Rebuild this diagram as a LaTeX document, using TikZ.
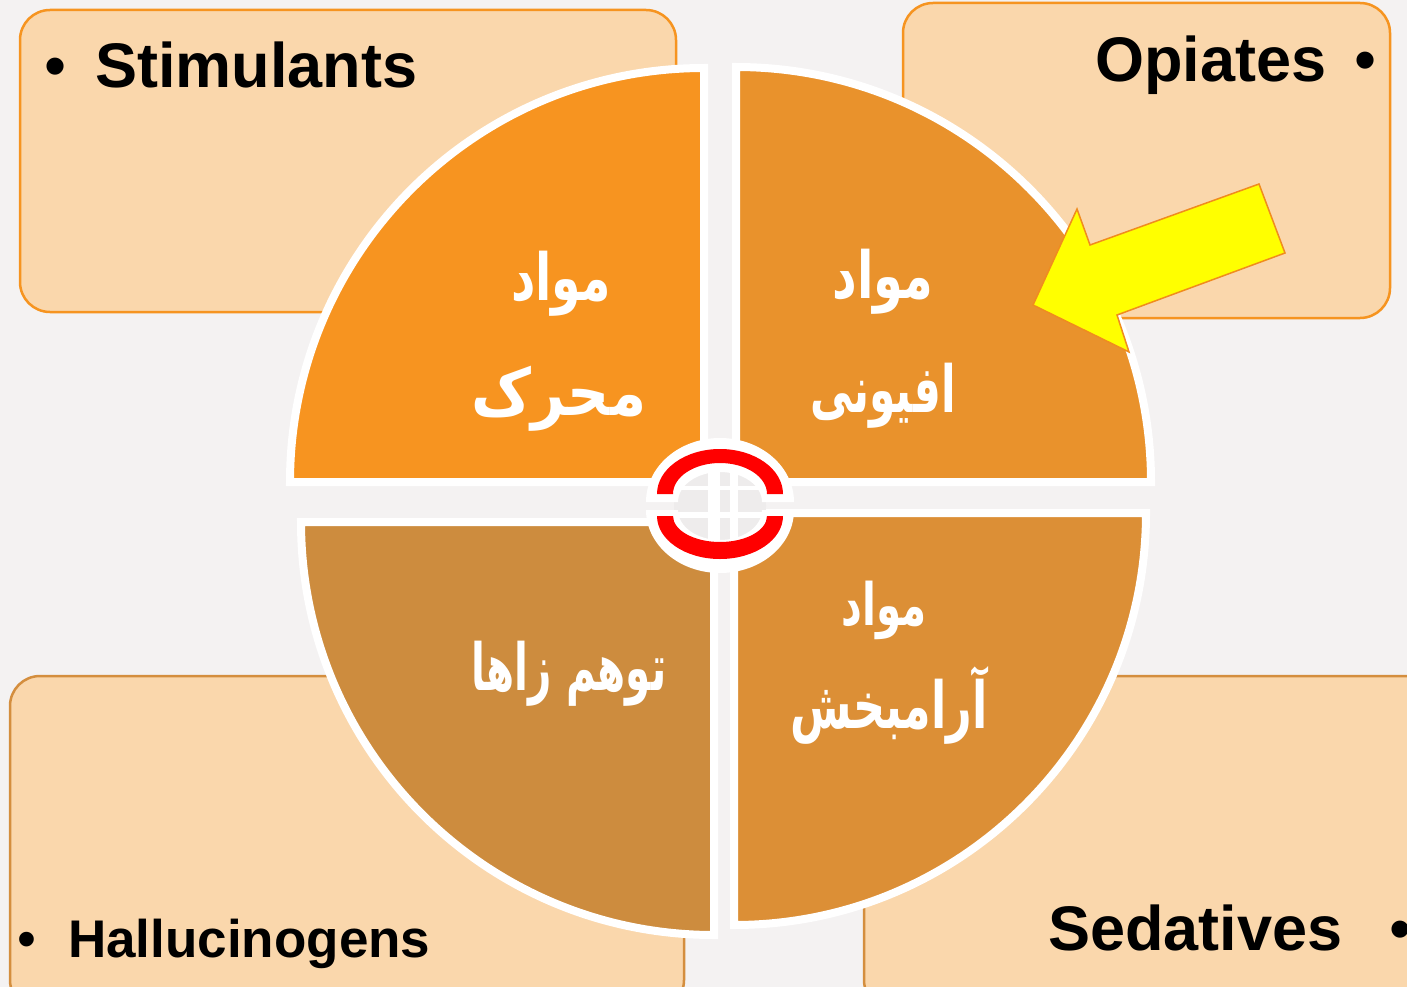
\documentclass[tikz,border=0pt]{standalone}
\usepackage{fontspec}
\setmainfont{Liberation Sans}
\newfontfamily\arabicfont[Script=Arabic]{DejaVu Sans}
\TeXXeTstate=1
\definecolor{bg}{RGB}{244,242,242}
\definecolor{holebg}{RGB}{238,236,236}
\definecolor{boxfill}{RGB}{250,215,172}
\definecolor{boxline}{RGB}{246,148,32}
\definecolor{boxlinetwo}{RGB}{212,142,62}
\definecolor{qtl}{RGB}{247,148,32}
\definecolor{qtr}{RGB}{233,146,44}
\definecolor{qbr}{RGB}{220,143,54}
\definecolor{qbl}{RGB}{205,140,62}
\definecolor{ringred}{RGB}{255,0,0}
\definecolor{arrowfill}{RGB}{255,255,0}
\definecolor{arrowline}{RGB}{240,140,30}
\tikzset{
  cornerbox/.style={fill=boxfill, rounded corners=30pt, line width=2.5pt},
  quad/.style={draw=white, line width=8pt},
  entxt/.style={inner sep=0pt, anchor=base west, font=\bfseries\fontsize{63}{70}\selectfont},
  bul/.style={inner sep=0pt, anchor=base west, font=\fontsize{63}{70}\selectfont},
  fatxt/.style={inner sep=0pt, text=white, yscale=1.3, font=\arabicfont\bfseries\fontsize{50}{60}\selectfont},
}
\begin{document}
\begin{tikzpicture}[x=1pt,y=1pt]
\useasboundingbox (0,0) rectangle (1407,-987);
\fill[bg] (0,0) rectangle (1407,-987);

% corner boxes
\draw[cornerbox, draw=boxline] (20,-10) rectangle (676,-312);
\draw[cornerbox, draw=boxline] (903,-3) rectangle (1390,-318);
\draw[cornerbox, draw=boxlinetwo] (10,-676) rectangle (684,-1010);
\draw[cornerbox, draw=boxlinetwo] (864,-676) rectangle (1440,-1010);

% corner labels
\node[bul] (b1) at (44,-88) {•};
\node[entxt] (stim) at (95,-88) {Stimulants};
\node[entxt] (opi) at (1095,-82) {Opiates};
\node[bul] (b2) at (1354,-82) {•};
\node[entxt] (sed) at (1048,-950) {Sedatives};
\node[bul] (b3) at (1389,-950) {•};
\node[bul, font=\fontsize{54}{60}\selectfont] (b4) at (17,-957) {•};
\node[entxt, font=\bfseries\fontsize{53}{60}\selectfont] (hal) at (68,-957) {Hallucinogens};

% quadrants
\path[quad, fill=qtl] (704,-482) -- (290,-482) arc[start angle=180, end angle=90, radius=414pt] -- cycle;
\path[quad, fill=qtr] (736,-482) -- (736,-67) arc[start angle=90, end angle=0, radius=415pt] -- cycle;
\path[quad, fill=qbl] (714,-522) -- (301,-522) arc[start angle=180, end angle=270, radius=413pt] -- cycle;
\path[quad, fill=qbr] (734,-513) -- (1146,-513) arc[start angle=0, end angle=-90, radius=412pt] -- cycle;

% persian labels
\node[fatxt, xscale=0.95] (q1a) at (561,-284) {\beginR مواد\endR};
\node[fatxt, xscale=1.17] (q1b) at (559,-399) {\beginR محرک\endR};
\node[fatxt, xscale=0.96] (q2a) at (883,-282) {\beginR مواد\endR};
\node[fatxt, xscale=0.85] (q2b) at (883,-396) {\beginR افیونی\endR};
\node[fatxt, xscale=0.9, font=\arabicfont\bfseries\fontsize{45}{54}\selectfont] (q3a) at (884,-610) {\beginR مواد\endR};
\node[fatxt, xscale=0.89] (q3b) at (889,-705) {\beginR آرامبخش\endR};
\node[fatxt, xscale=0.81] (q4) at (569,-674) {\beginR توهم زاها\endR};

% centre ring
\fill[holebg] (720,-506) ellipse[x radius=46pt, y radius=36pt];
\begin{scope}
\clip (720,-506) ellipse[x radius=46pt, y radius=36pt];
\fill[white] (708,-440) rectangle (720,-580);
\fill[white] (730,-440) rectangle (738,-580);
\fill[white] (640,-486) rectangle (800,-490);
\fill[white] (640,-512) rectangle (800,-518);
\end{scope}
\fill[white] (646,-502) arc[start angle=180, end angle=0, x radius=74pt, y radius=64pt]
  -- (762,-502) arc[start angle=0, end angle=180, x radius=42pt, y radius=30pt] -- cycle;
\fill[ringred] (657,-494) arc[start angle=180, end angle=0, x radius=63pt, y radius=45pt]
  -- (767,-494) arc[start angle=0, end angle=180, x radius=47pt, y radius=31pt] -- cycle;
\fill[white] (646,-510) arc[start angle=180, end angle=360, x radius=74pt, y radius=63pt]
  -- (762,-510) arc[start angle=360, end angle=180, x radius=42pt, y radius=30pt] -- cycle;
\fill[ringred] (657,-516) arc[start angle=180, end angle=360, x radius=63pt, y radius=43pt]
  -- (767,-516) arc[start angle=360, end angle=180, x radius=47pt, y radius=26pt] -- cycle;

% yellow arrow
\draw[fill=arrowfill, draw=arrowline, line width=1.5pt, line join=miter]
  (1033,-305) -- (1077,-209) -- (1090,-245) -- (1259,-184) -- (1285,-253)
  -- (1117,-315) -- (1129,-352) -- cycle;
\end{tikzpicture}
\end{document}
